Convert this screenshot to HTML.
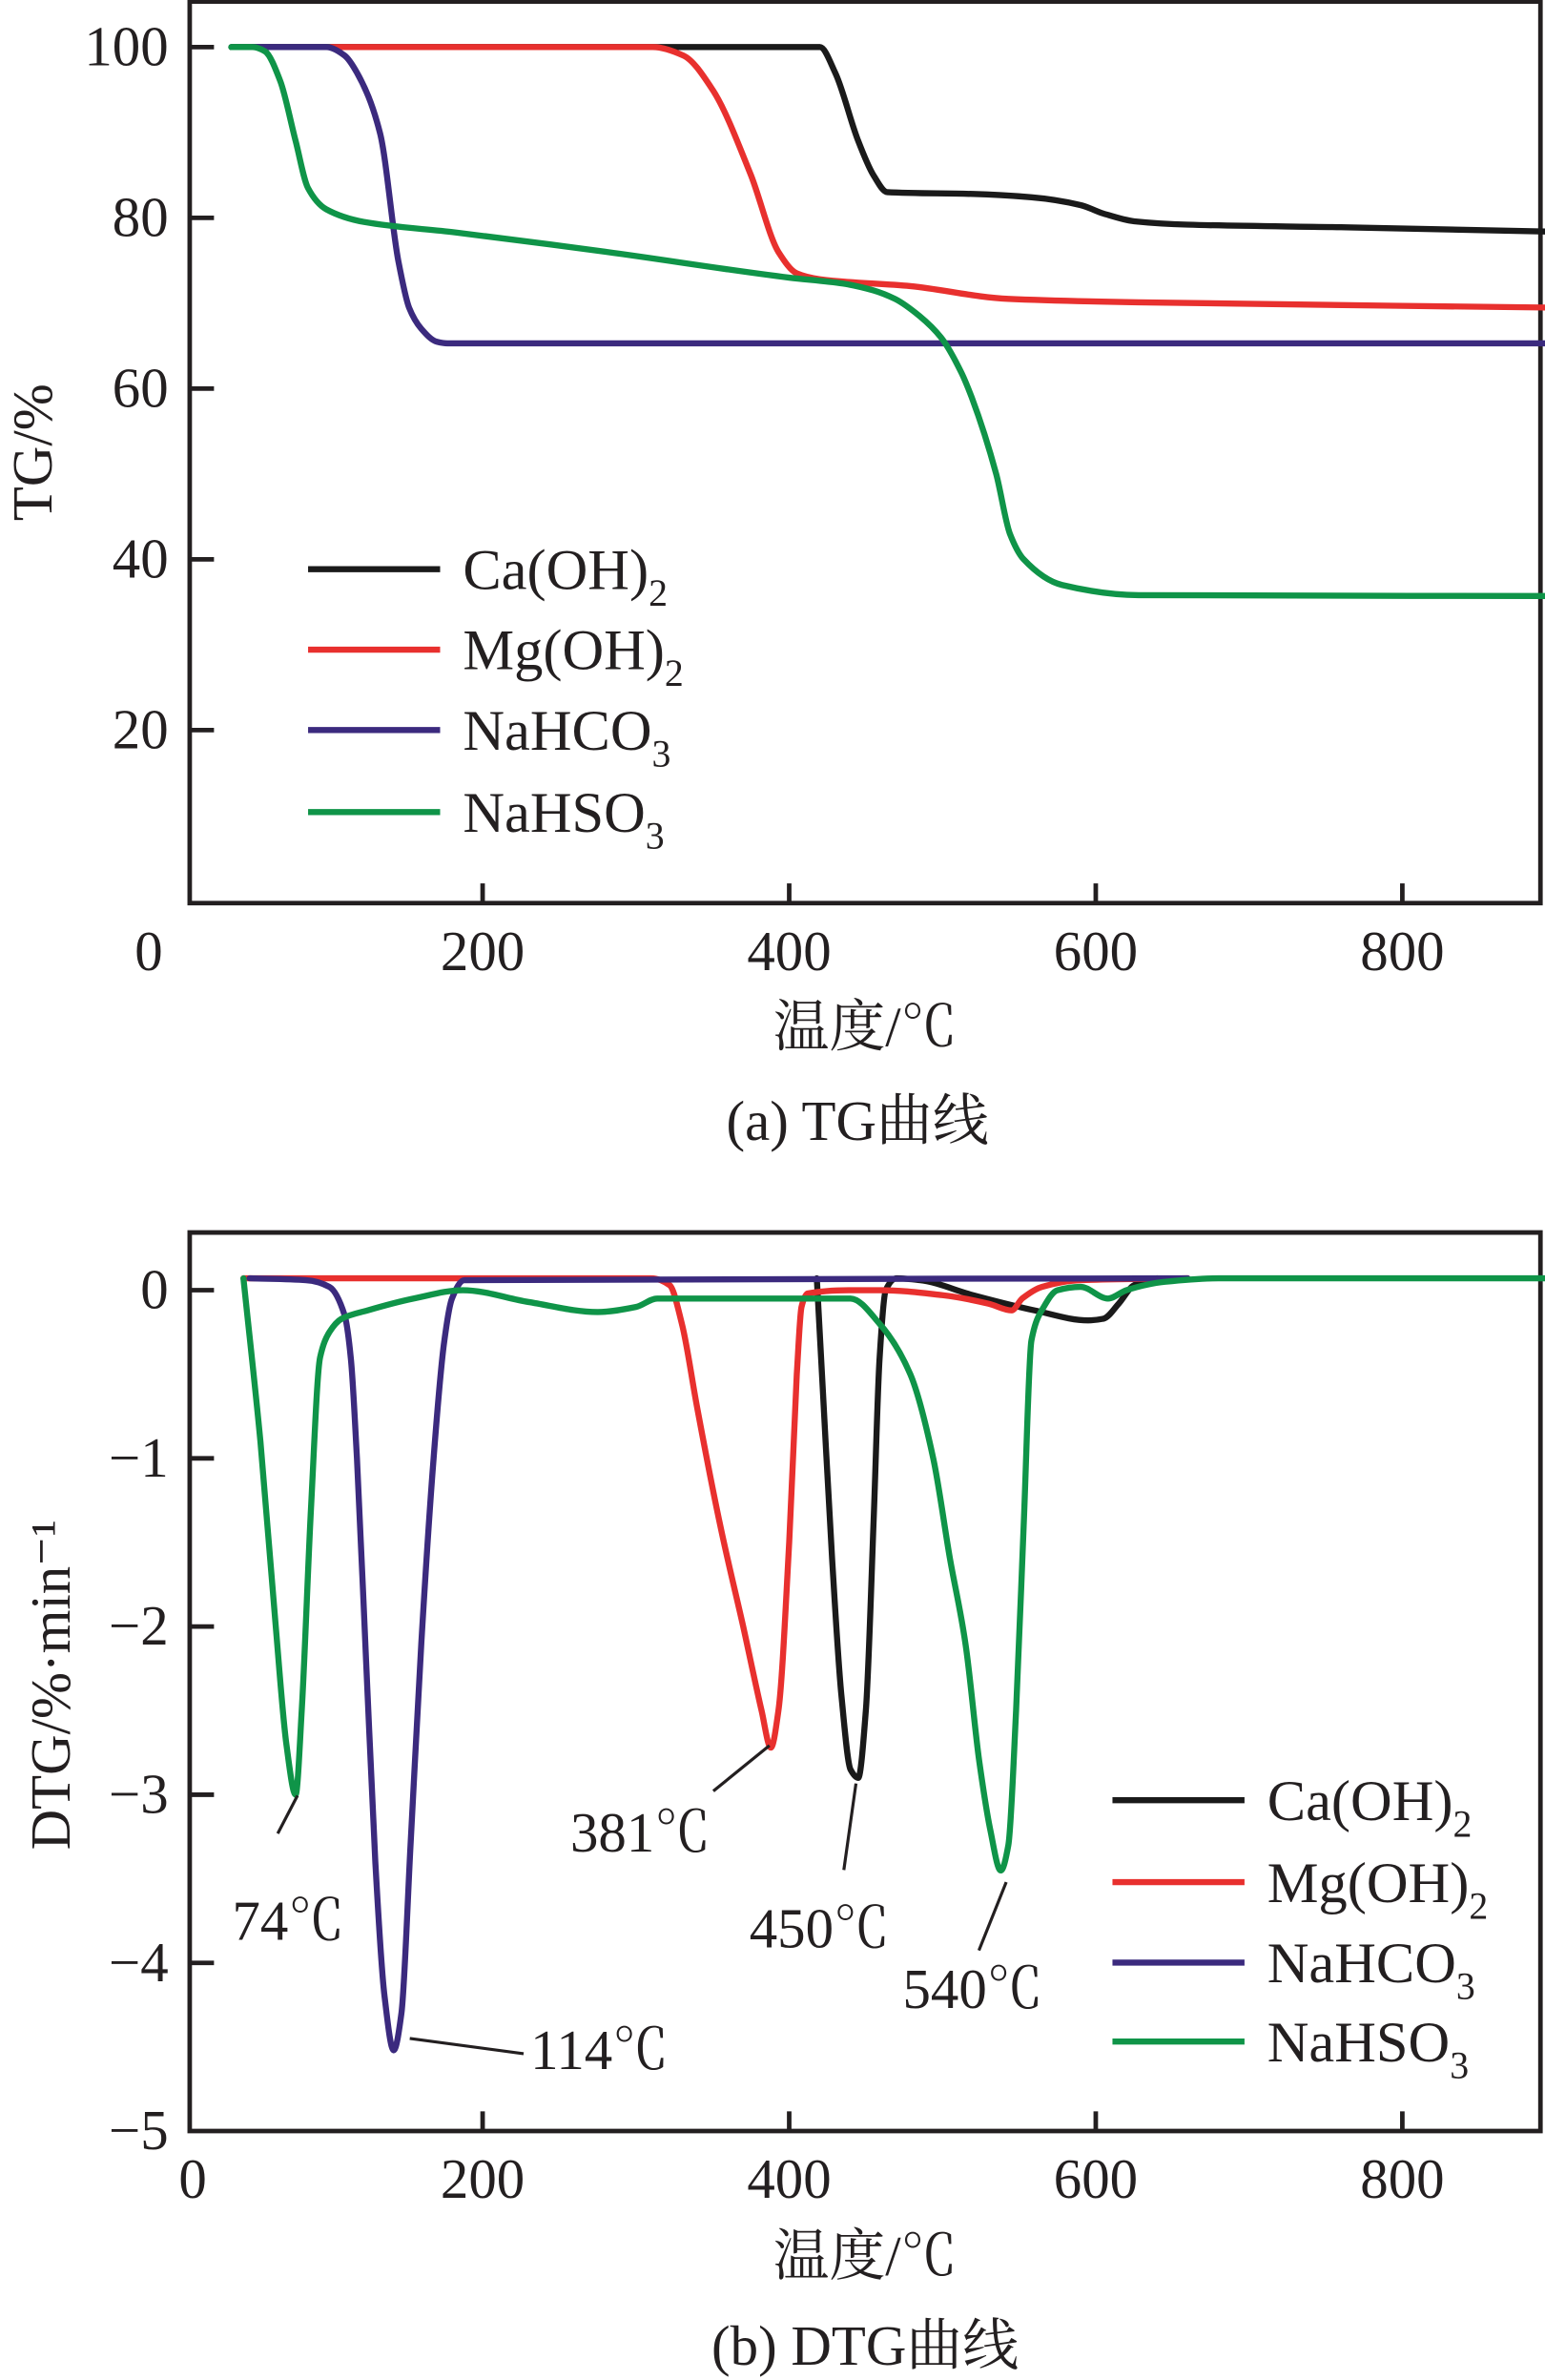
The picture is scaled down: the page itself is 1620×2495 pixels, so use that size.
<!DOCTYPE html>
<html><head><meta charset="utf-8"><style>
html,body{margin:0;padding:0;background:#fff;}
svg{display:block;}
text{font-family:"Liberation Serif","Noto Serif CJK SC",serif;fill:#231f20;}
</style></head><body>
<svg id="fig" width="1620" height="2495" viewBox="0 0 1018 1568" preserveAspectRatio="none">
<g id="tg"></g>
<g id="dtg"></g>
</svg>
<script>
// ---- data ----
const seriesNames = ["Ca(OH)2","Mg(OH)2","NaHCO3","NaHSO3"];
const seriesColors = ["#1a1a1a","#e8302e","#3b2a7e","#0f9448"];
const tgCa = [[36,100],[420,100],[430,97],[445,89],[455,85],[464,83],[520,82.8],[558,82.4],[590,81.5],[605,80.5],[625,79.6],[660,79.2],[760,78.9],[893,78.4]];
const tgMg = [[101,100],[311,100],[331,99],[350,95],[375,85],[393,76],[405,73.5],[420,72.8],[479,72],[543,70.5],[628,70.1],[893,69.5]];
const tgNa = [[50,100],[98,100],[110,99],[118,97],[133,90],[145,75],[152,69.5],[160,67],[170,65.5],[177,65.3],[893,65.3]];
const tgNs = [[36,100],[50,100],[58,99.5],[68,96],[78,89],[86,83.5],[98,81],[123,79.5],[182,78.3],[281,76],[400,73],[435,72.3],[455,71.5],[469,70.5],[485,68.5],[499,66],[512,62],[519,59],[535,50],[544,43],[553,40],[578,37],[628,35.8],[893,35.7]];
const dtgCa = [[418,0.07],[422,-0.6],[428,-1.6],[434,-2.4],[440,-2.85],[445,-2.9],[450,-2.5],[455,-1.4],[459,-0.4],[463,0],[470,0.07],[485,0.06],[520,-0.03],[560,-0.12],[595,-0.18],[605,-0.17],[615,-0.08],[625,0.03],[640,0.07]];
const dtgMg = [[44,0.07],[310,0.07],[322,0.03],[330,-0.2],[340,-0.7],[355,-1.4],[370,-2.0],[382,-2.5],[388,-2.72],[393,-2.5],[400,-1.5],[405,-0.5],[408,-0.1],[412,-0.02],[440,0],[460,0],[500,-0.03],[530,-0.08],[545,-0.12],[552,-0.05],[565,0.02],[590,0.06],[660,0.07]];
const dtgNa = [[48,0.07],[85,0.06],[100,0.02],[110,-0.15],[114,-0.4],[118,-1.0],[124,-2.2],[130,-3.4],[136,-4.2],[142,-4.52],[147,-4.3],[153,-3.3],[160,-2.1],[168,-1.0],[175,-0.3],[180,-0.05],[188,0.06],[660,0.07]];
const dtgNs = [[44,0.07],[55,-0.9],[65,-2.0],[72,-2.7],[78,-3.0],[82,-2.5],[88,-1.3],[94,-0.4],[100,-0.25],[108,-0.17],[125,-0.12],[155,-0.05],[187,0],[230,-0.07],[275,-0.13],[300,-0.1],[314,-0.05],[440,-0.05],[459,-0.2],[479,-0.5],[494,-1.0],[505,-1.6],[515,-2.1],[524,-2.8],[531,-3.2],[538,-3.45],[543,-3.3],[548,-2.5],[553,-1.4],[558,-0.3],[566,-0.1],[575,0],[590,0.02],[608,-0.05],[620,0],[645,0.05],[680,0.07],[893,0.07]];
const tgYTicks = [20,40,60,80,100];
const dtgYTicks = [0,-1,-2,-3,-4,-5];
const xTicks = [200,400,600,800];

const NS="http://www.w3.org/2000/svg";
function mk(parent,tag,attrs,txt){const e=document.createElementNS(NS,tag);for(const k in attrs)e.setAttribute(k,attrs[k]);if(txt!==undefined)e.textContent=txt;parent.appendChild(e);return e;}
function xs(v){return 116+v*1.01;}
// monotone cubic (Fritsch-Carlson) - no overshoot
function smooth(p){
  const n=p.length, dx=[], m=[], t=[];
  for(let i=0;i<n-1;i++){dx[i]=p[i+1][0]-p[i][0];m[i]=(p[i+1][1]-p[i][1])/dx[i];}
  t[0]=m[0];t[n-1]=m[n-2];
  for(let i=1;i<n-1;i++){
    if(m[i-1]*m[i]<=0)t[i]=0;
    else{const w1=2*dx[i]+dx[i-1],w2=dx[i]+2*dx[i-1];t[i]=(w1+w2)/(w1/m[i-1]+w2/m[i]);}
  }
  let d='M'+p[0][0].toFixed(1)+' '+p[0][1].toFixed(1);
  for(let i=0;i<n-1;i++){
    const h=dx[i]/3;
    d+=` C${(p[i][0]+h).toFixed(1)} ${(p[i][1]+t[i]*h).toFixed(1)} ${(p[i+1][0]-h).toFixed(1)} ${(p[i+1][1]-t[i+1]*h).toFixed(1)} ${p[i+1][0].toFixed(1)} ${p[i+1][1].toFixed(1)}`;
  }
  return d;
}

function chart(g,yScale,top,bottom,yTicks,series,yLabelFn){
  mk(g,'path',{d:`M1015 ${top} L125 ${top} L125 ${bottom} L1015 ${bottom} Z`,fill:'none',stroke:'#231f20','stroke-width':3,});
  yTicks.forEach(t=>{
    const y=yScale(t);
    if(y<bottom-2) mk(g,'line',{x1:125,x2:141,y1:y,y2:y,stroke:'#231f20','stroke-width':3,});
    mk(g,'text',{x:111,y:y+12,'text-anchor':'end','font-size':37,},yLabelFn(t));
  });
  xTicks.forEach(t=>{
    const x=xs(t);
    mk(g,'line',{x1:x,x2:x,y1:bottom,y2:bottom-13,stroke:'#231f20','stroke-width':3,});
    mk(g,'text',{x:x,y:bottom+44,'text-anchor':'middle','font-size':37,},String(t));
  });
  series.forEach((s,i)=>{
    const d=smooth(s.map(p=>[xs(p[0]),yScale(p[1])]));
    const p=mk(g,'path',{d:d,fill:'none',stroke:seriesColors[i],'stroke-width':4,'stroke-linejoin':'round','stroke-linecap':'round'});
    
    
  });
}
function legend(g,x0,ys){
  const labels=[["Ca(OH)","2"],["Mg(OH)","2"],["NaHCO","3"],["NaHSO","3"]];
  ys.forEach((y,i)=>{
    const e=mk(g,'g',{});
    
    
    mk(e,'line',{x1:x0,x2:x0+87,y1:y,y2:y,stroke:seriesColors[i],'stroke-width':4});
    const t=mk(e,'text',{x:x0+102,y:y+13,'font-size':38});
    t.textContent=labels[i][0];
    mk(t,'tspan',{'font-size':25,dy:11},labels[i][1]);
  });
}

// TG chart
const tg=document.getElementById('tg');
const tgY=v=>593.5-v*5.625;
chart(tg,tgY,1,595,tgYTicks,[tgCa,tgMg,tgNa,tgNs],t=>String(t));
mk(tg,'text',{x:98,y:639,'text-anchor':'middle','font-size':37,},'0');
legend(tg,203,[375,428,481,535]);
mk(tg,'text',{x:0,y:0,transform:'translate(34,298) rotate(-90)','text-anchor':'middle','font-size':37,},'TG/%');
mk(tg,'text',{x:570,y:689,'text-anchor':'middle','font-size':37,},'温度/℃');
mk(tg,'text',{x:565,y:751,'text-anchor':'middle','font-size':37,},'(a) TG曲线');

// DTG chart
const dtg=document.getElementById('dtg');
const dY=v=>850-v*110.8;
chart(dtg,dY,812,1404,dtgYTicks,[dtgCa,dtgMg,dtgNa,dtgNs],t=>t===0?'0':'−'+Math.abs(t));
mk(dtg,'text',{x:127,y:1448,'text-anchor':'middle','font-size':37,},'0');
legend(dtg,733,[1186,1240,1293,1345]);
mk(dtg,'text',{x:0,y:0,transform:'translate(46,1110) rotate(-90)','text-anchor':'middle','font-size':37,},'DTG/%·min⁻¹');
mk(dtg,'text',{x:570,y:1499,'text-anchor':'middle','font-size':37,},'温度/℃');
mk(dtg,'text',{x:570,y:1558,'text-anchor':'middle','font-size':37,},'(b) DTG曲线');
const ann=[["74℃",190,1278,196,1183,183,1208],["114℃",395,1363,270,1343,345,1353],["381℃",422,1220,507,1150,470,1180],["450℃",540,1283,564,1175,556,1232],["540℃",641,1323,663,1240,645,1285]];
ann.forEach(a=>{
  mk(dtg,'line',{x1:a[3],y1:a[4],x2:a[5],y2:a[6],stroke:'#231f20','stroke-width':2,});
  mk(dtg,'text',{x:a[1],y:a[2],'text-anchor':'middle','font-size':37,},a[0]);
});
</script>
</body></html>
